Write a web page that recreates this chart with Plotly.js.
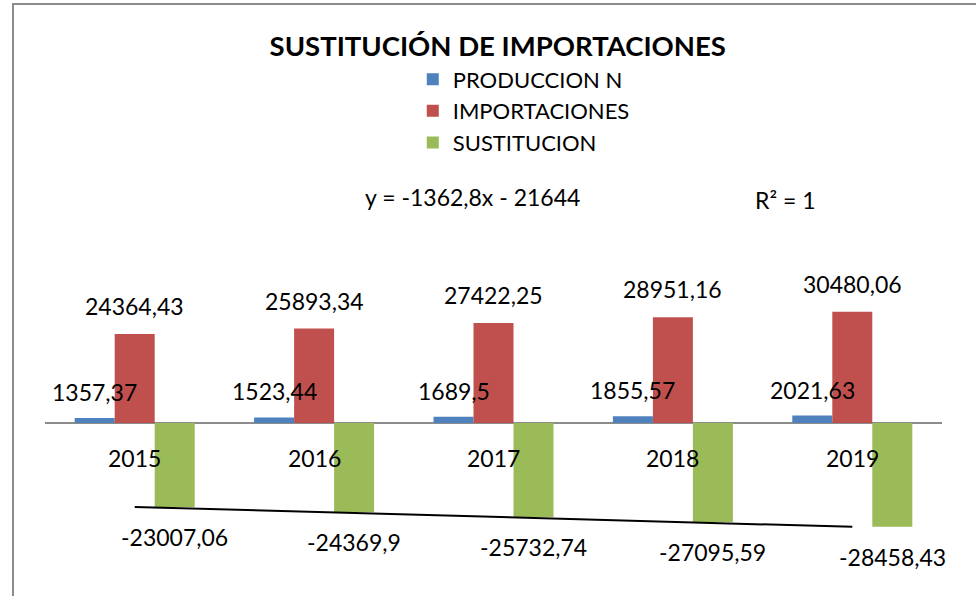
<!DOCTYPE html>
<html><head><meta charset="utf-8">
<script src="https://cdn.plot.ly/plotly-3.0.1.min.js"></script>
<style>
html,body{margin:0;padding:0;background:#fff;}
#wrap{position:relative;width:976px;height:596px;}
#chart{width:976px;height:596px;}
#frame{position:absolute;left:12px;top:3px;right:-5px;bottom:-5px;border-left:2px solid #8c8c8c;border-top:2px solid #8c8c8c;pointer-events:none;}
</style></head>
<body>
<div id="wrap"><div id="chart"></div><div id="frame"></div></div>
<script>
const years = ['2015','2016','2017','2018','2019'];
const produccion = [1357.37, 1523.44, 1689.5, 1855.57, 2021.63];
const importaciones = [24364.43, 25893.34, 27422.25, 28951.16, 30480.06];
const sustitucion = [-23007.06, -24369.9, -25732.74, -27095.59, -28458.43];
const produccionLabels = ['1357,37','1523,44','1689,5','1855,57','2021,63'];
const importacionesLabels = ['24364,43','25893,34','27422,25','28951,16','30480,06'];
const sustitucionLabels = ['-23007,06','-24369,9','-25732,74','-27095,59','-28458,43'];
const equationText = 'y = -1362,8x - 21644';
const r2Text = 'R² = 1';

const FONT = 'Lato, "Open Sans", sans-serif';
const labelSize = 23;

const traces = [
  {type:'bar', name:'PRODUCCION N', x:years, y:produccion, marker:{color:'#4F81BD'}, hoverinfo:'skip'},
  {type:'bar', name:'IMPORTACIONES', x:years, y:importaciones, marker:{color:'#C0504D'}, hoverinfo:'skip'},
  {type:'bar', name:'SUSTITUCION', x:years, y:sustitucion, marker:{color:'#9BBB59'}, hoverinfo:'skip'},
  {type:'scatter', mode:'lines', name:'Lineal (SUSTITUCION)', x:years, y:sustitucion, line:{color:'#000', width:2}, showlegend:false, hoverinfo:'skip'}
];

const annotations = [];
function addLabels(vals, labels, xshift, yshift){
  vals.forEach((v,i)=>{
    annotations.push({xref:'x', yref:'y', x:i, y:v, text:labels[i], showarrow:false,
      xshift:xshift, yshift:yshift, xanchor:'center', yanchor:'middle',
      font:{family:FONT, size:labelSize, color:'#000'}});
  });
}
addLabels(produccion, produccionLabels, -40, 26);
addLabels(importaciones, importacionesLabels, 0, 28);
addLabels(sustitucion, sustitucionLabels, 40, -30);
years.forEach((y,i)=>{
  annotations.push({xref:'x', yref:'y', x:i, y:0, text:y, showarrow:false, yshift:-35,
    xanchor:'center', yanchor:'middle', font:{family:FONT, size:labelSize, color:'#000'}});
});
annotations.push({xref:'paper', yref:'paper', x:0.477, y:0.955, text:equationText, showarrow:false,
  xanchor:'center', yanchor:'middle', font:{family:FONT, size:23, color:'#000'}});
annotations.push({xref:'paper', yref:'paper', x:0.826, y:0.947, text:r2Text, showarrow:false,
  xanchor:'center', yanchor:'middle', font:{family:FONT, size:23, color:'#000'}});

const layout = {
  width:976, height:596,
  margin:{l:45, r:34, t:180, b:36},
  paper_bgcolor:'#fff', plot_bgcolor:'#fff',
  barmode:'group', bargap:0.331, bargroupgap:0,
  title:{text:'<b>SUSTITUCIÓN DE IMPORTACIONES</b>', x:0.51, xanchor:'center', xref:'container',
    y:0.923, yanchor:'middle', yref:'container', font:{family:FONT, size:27.5, color:'#000'}},
  showlegend:true,
  legend:{x:0.41, y:1.32, xanchor:'left', yanchor:'top', orientation:'v', traceorder:'normal',
    font:{family:FONT, size:22, color:'#000'}, bgcolor:'rgba(0,0,0,0)', tracegroupgap:0},
  xaxis:{type:'category', range:[-0.5, 4.5], autorange:false, showticklabels:false, ticks:'', showgrid:false, showline:false, zeroline:false, fixedrange:true},
  yaxis:{range:[-37538, 66582], autorange:false, showticklabels:false, ticks:'', showgrid:false, showline:false,
    zeroline:true, zerolinecolor:'#8c8c8c', zerolinewidth:2, fixedrange:true},
  annotations:annotations
};
Plotly.newPlot('chart', traces, layout, {displayModeBar:false, staticPlot:true});
</script>
</body></html>
